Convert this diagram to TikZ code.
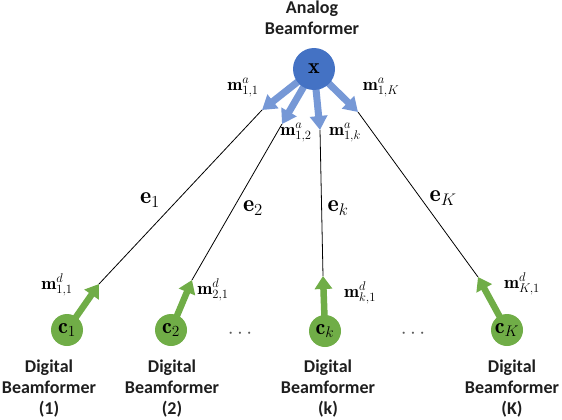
\RequirePackage{fix-cm}
\documentclass[tikz,border=0pt]{standalone}
\usepackage{fontspec}
\newfontfamily\lblfont{Carlito}
\usetikzlibrary{arrows.meta}
\definecolor{bfblue}{HTML}{4472C4}
\definecolor{arrblue}{RGB}{118,152,214}
\definecolor{bfgreen}{HTML}{70AD47}
\definecolor{lbltext}{RGB}{30,30,30}
\pgfdeclarelayer{bg}
\pgfsetlayers{bg,main}
\begin{document}
\begin{tikzpicture}[x=1pt,y=-1pt,
  titletext/.style={font=\lblfont\bfseries\fontsize{18}{21}\selectfont, align=center, text=lbltext, inner sep=0pt, anchor=base},
  bcirc/.style={circle, fill=bfblue, minimum size=42pt, inner sep=0pt, font=\fontsize{22}{26}\selectfont},
  gcirc/.style={circle, fill=bfgreen, minimum size=32pt, inner sep=0pt, font=\fontsize{22}{26}\selectfont},
  barrow/.style={draw=arrblue, line width=7pt, -{Triangle[width=17pt,length=14pt]}},
  garrow/.style={draw=bfgreen, line width=6.5pt, -{Triangle[width=17pt,length=13pt]}},
  eline/.style={draw=black, line width=0.8pt},
  mlbl/.style={font=\fontsize{18}{21}\selectfont, inner sep=0pt},
  elbl/.style={font=\fontsize{24}{28}\selectfont, inner sep=0pt},
  dotlbl/.style={font=\fontsize{21}{25}\selectfont, text=black!65, inner sep=0pt, anchor=base}
]
\useasboundingbox (0,0) rectangle (562,420);

% analog beamformer
\node[titletext] (title) at (312,35) {Analog\\Beamformer};
\node[bcirc] (X) at (314,69) {$\mathbf{x}$};

% arrow tip coordinates
\coordinate (a1) at (262,110);
\coordinate (a2) at (282,124);
\coordinate (a3) at (320,130);
\coordinate (a4) at (358,112);
\coordinate (d1) at (99,284);
\coordinate (d2) at (192,280);
\coordinate (d3) at (323,276);
\coordinate (d4) at (478,277);

% digital beamformers
\node[gcirc] (c1) at (67,330) {$\mathbf{c}_1$};
\node[gcirc] (c2) at (171,330) {$\mathbf{c}_2$};
\node[gcirc] (ck) at (325,331) {$\mathbf{c}_k$};
\node[gcirc] (cK) at (507,330) {$\mathbf{c}_K$};

\begin{pgfonlayer}{bg}
\draw[barrow] (X.center) -- (a1);
\draw[barrow] (X.center) -- (a2);
\draw[barrow] (X.center) -- (a3);
\draw[barrow] (X.center) -- (a4);
\draw[garrow] (c1.center) -- (d1);
\draw[garrow] (c2.center) -- (d2);
\draw[garrow] (ck.center) -- (d3);
\draw[garrow] (cK.center) -- (d4);
\end{pgfonlayer}

% links
\draw[eline] (a1) -- (d1);
\draw[eline] (a2) -- (d2);
\draw[eline] (a3) -- (d3);
\draw[eline] (a4) -- (d4);

% analog labels
\node[mlbl] (ma1) at (243,88) {$\mathbf{m}^{a}_{1,1}$};
\node[mlbl] (ma2) at (296,133) {$\mathbf{m}^{a}_{1,2}$};
\node[mlbl] (mak) at (345,133) {$\mathbf{m}^{a}_{1,k}$};
\node[mlbl] (maK) at (381,88) {$\mathbf{m}^{a}_{1,K}$};

% link labels
\node[elbl] (e1) at (150,200) {$\mathbf{e}_1$};
\node[elbl] (e2) at (253,208) {$\mathbf{e}_2$};
\node[elbl] (ek) at (338,208) {$\mathbf{e}_k$};
\node[elbl] (eK) at (443,198) {$\mathbf{e}_K$};

% digital labels
\node[mlbl] (md1) at (57,285) {$\mathbf{m}^{d}_{1,1}$};
\node[mlbl] (md2) at (213,290) {$\mathbf{m}^{d}_{2,1}$};
\node[mlbl] (mdk) at (360,293) {$\mathbf{m}^{d}_{k,1}$};
\node[mlbl] (mdK) at (522,284) {$\mathbf{m}^{d}_{K,1}$};

% dots
\node[dotlbl] (dots1) at (240,338) {$\cdots$};
\node[dotlbl] (dots2) at (413,338) {$\cdots$};

% captions
\node[titletext] (cap1) at (49,414) {Digital\\Beamformer\\(1)};
\node[titletext] (cap2) at (172,414) {Digital\\Beamformer\\(2)};
\node[titletext] (capk) at (328,414) {Digital\\Beamformer\\(k)};
\node[titletext] (capK) at (512,414) {Digital\\Beamformer\\(K)};
\end{tikzpicture}
\end{document}
